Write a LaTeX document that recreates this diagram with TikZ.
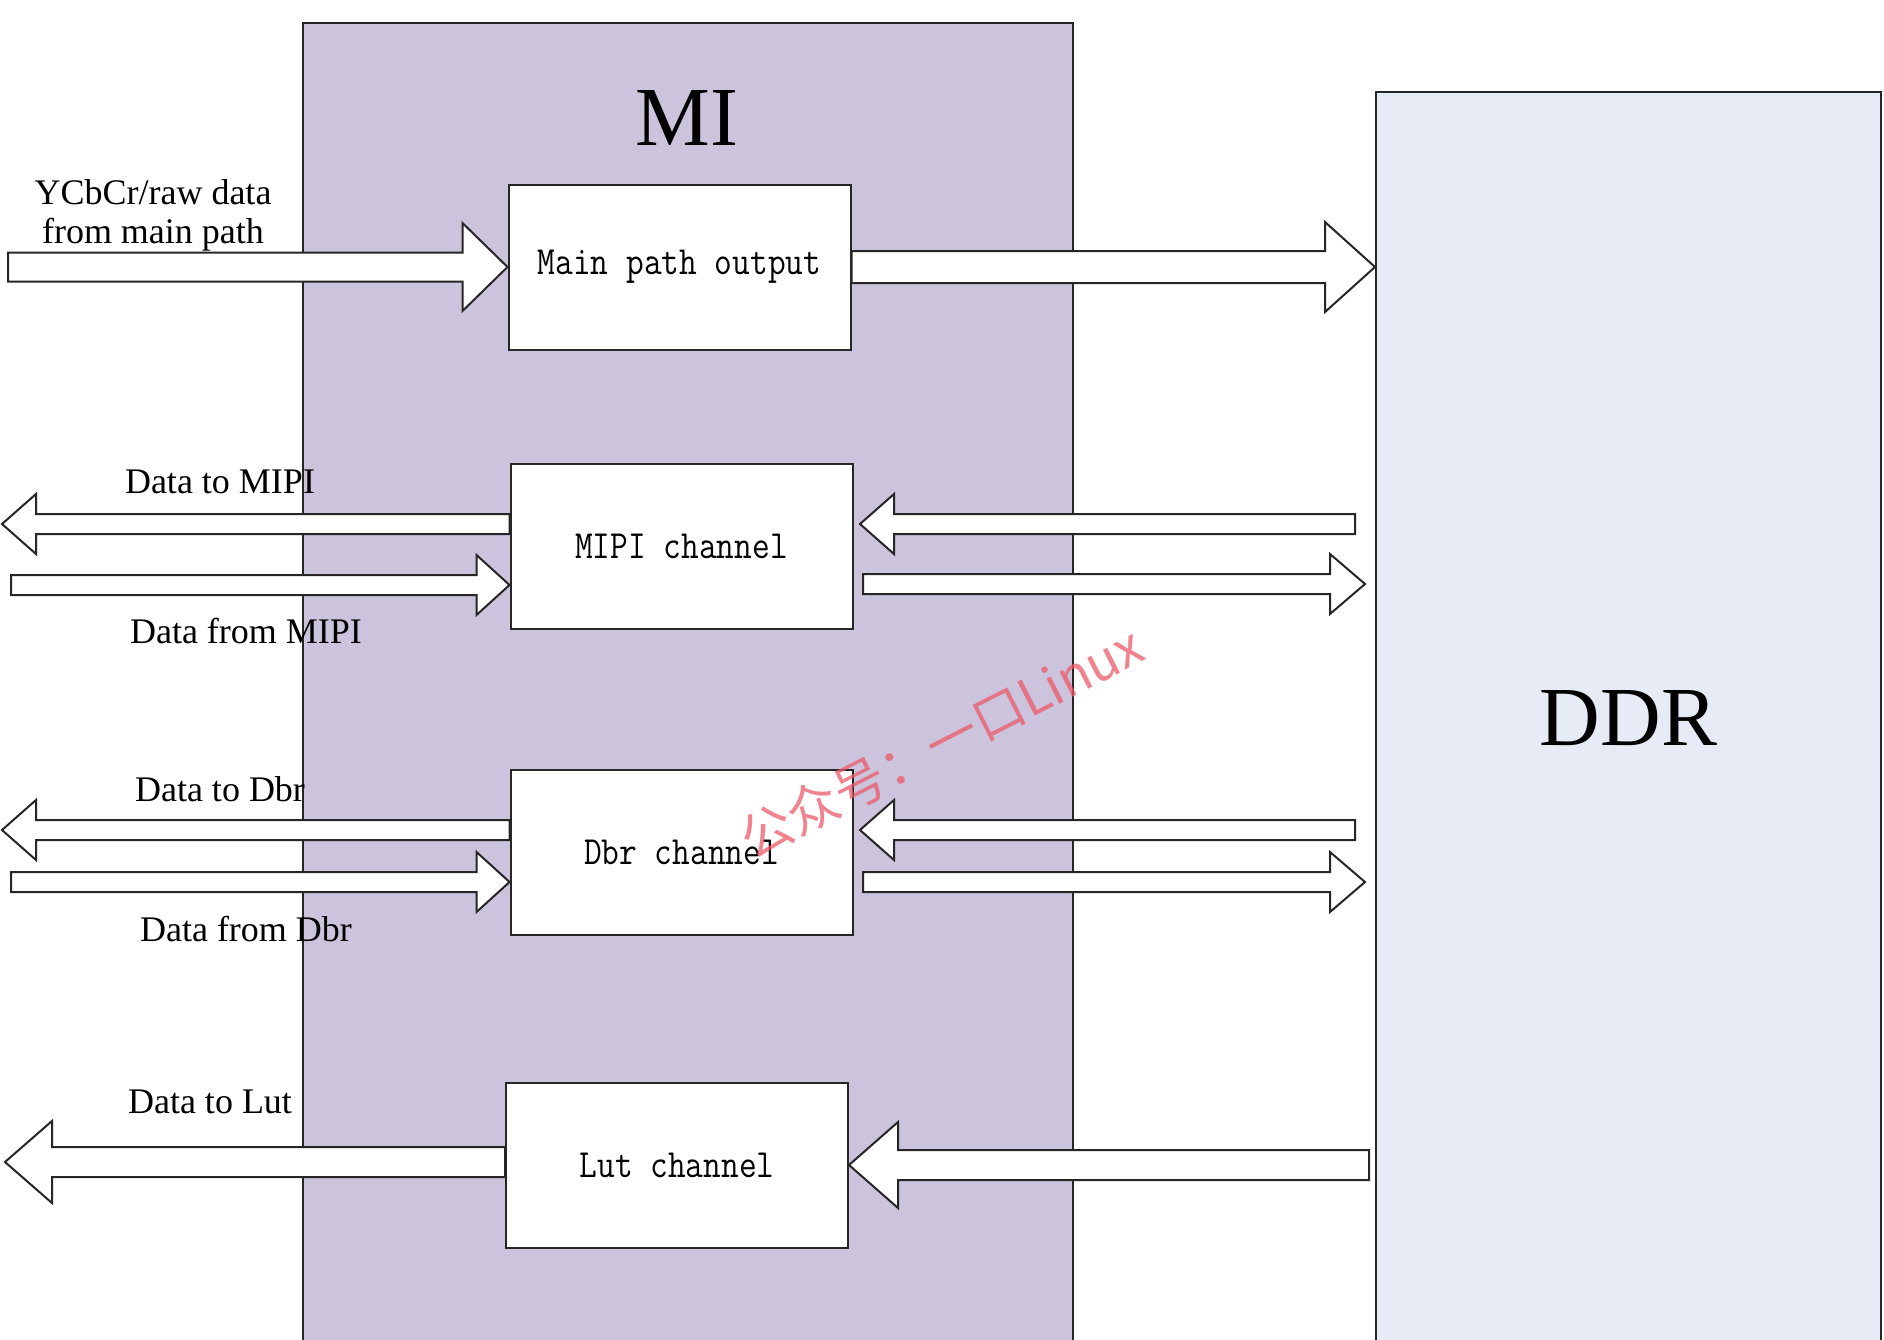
\documentclass[tikz,border=0pt]{standalone}
\usepackage{fontspec}
\usepackage{graphicx}
\setmainfont{Liberation Serif}
\newfontfamily\cjkfont{Noto Sans CJK SC}
\usetikzlibrary{calc}
\definecolor{mifill}{RGB}{204,195,220}
\definecolor{ddrfill}{RGB}{231,235,246}
\definecolor{wmred}{RGB}{236,90,105}
\tikzset{
  blk/.style={draw=black!85, line width=1pt},
  chbox/.style={blk, fill=white, minimum width=171pt, minimum height=82.5pt, inner sep=0pt},
  chtext/.style={font=\fontsize{20}{22}\selectfont\ttfamily},
  lbl/.style={font=\fontsize{18}{19.5}\selectfont, inner sep=0pt, align=center},
  big/.style={font=\fontsize{42}{46}\selectfont},
  arr/.style={draw=black!85, line width=1pt, fill=white, line join=miter},
}
\newcommand\blkarrow[5]{%
  \draw[arr] let \p1=(#1), \p2=(#2), \n1={sign(\x2-\x1)} in
   (\x1,{\y2+#3*0.5pt}) -- ({\x2-\n1*#4*0.5pt},{\y2+#3*0.5pt}) --
   ({\x2-\n1*#4*0.5pt},{\y2+#5*0.5pt}) -- (\x2,\y2) --
   ({\x2-\n1*#4*0.5pt},{\y2-#5*0.5pt}) -- ({\x2-\n1*#4*0.5pt},{\y2-#3*0.5pt}) --
   (\x1,{\y2-#3*0.5pt}) -- cycle;}
\newcommand\chlabel[1]{\scalebox{0.86}[1]{#1}}
\begin{document}
\begin{tikzpicture}[x=0.5pt,y=-0.5pt]
\useasboundingbox (0,0) rectangle (1884,1339);
\clip (0,0) rectangle (1884,1339);
\fill[white] (0,0) rectangle (1884,1339);
% big blocks
\node[blk, fill=mifill, minimum width=385pt, minimum height=661pt, inner sep=0pt] (mi) at (688,684) {};
\node[big] (milbl) at (687,118) {MI};
\node[blk, fill=ddrfill, minimum width=252.5pt, minimum height=626.5pt, inner sep=0pt, big] (ddr) at (1628.5,718.5) {DDR};
% channel boxes
\node[chbox, chtext] (mainbox) at (679.5,267) {\chlabel{Main path output}};
\node[chbox, chtext] (mipi) at (681.5,546) {\chlabel{MIPI channel}};
\node[chbox, chtext] (dbr) at (681.5,852.5) {\chlabel{Dbr channel}};
\node[chbox, chtext] (lut) at (677,1165) {\chlabel{Lut channel}};
% main path arrows
\coordinate (inMain) at (8,266);
\blkarrow{inMain}{mainbox.west}{14.5}{45}{44}
\coordinate (outMain) at (mainbox.east -| ddr.west);
\blkarrow{mainbox.east}{outMain}{16}{50}{45}
% MIPI arrows
\coordinate (toMipi) at (2,524);
\coordinate (toMipiS) at (mipi.west |- toMipi);
\blkarrow{toMipiS}{toMipi}{10}{34}{30}
\coordinate (fromMipiS) at (11,585);
\coordinate (fromMipi) at (mipi.west |- fromMipiS);
\blkarrow{fromMipiS}{fromMipi}{10}{33}{30}
\coordinate (mipiRinS) at (1355,524);
\coordinate (mipiRin) at (860,524);
\blkarrow{mipiRinS}{mipiRin}{10}{34}{30}
\coordinate (mipiRoutS) at (863,584);
\coordinate (mipiRout) at (1365,584);
\blkarrow{mipiRoutS}{mipiRout}{10}{35}{30}
% Dbr arrows
\coordinate (toDbr) at (2,830);
\coordinate (toDbrS) at (dbr.west |- toDbr);
\blkarrow{toDbrS}{toDbr}{10}{34}{30}
\coordinate (fromDbrS) at (11,882);
\coordinate (fromDbr) at (dbr.west |- fromDbrS);
\blkarrow{fromDbrS}{fromDbr}{10}{33}{30}
\coordinate (dbrRinS) at (1355,830);
\coordinate (dbrRin) at (860,830);
\blkarrow{dbrRinS}{dbrRin}{10}{34}{30}
\coordinate (dbrRoutS) at (863,882);
\coordinate (dbrRout) at (1365,882);
\blkarrow{dbrRoutS}{dbrRout}{10}{35}{30}
% Lut arrows
\coordinate (toLut) at (5,1162);
\coordinate (toLutS) at (lut.west |- toLut);
\blkarrow{toLutS}{toLut}{15}{47}{41}
\coordinate (lutInS) at (1369,1165);
\blkarrow{lutInS}{lut.east}{15}{49}{43}
% labels
\node[lbl] (lmain) at (153,215) {YCbCr/raw data\\from main path};
\node[lbl] (ltomipi) at (220,482) {Data to MIPI};
\node[lbl] (lfrommipi) at (246,631) {Data from MIPI};
\node[lbl] (ltodbr) at (220,789) {Data to Dbr};
\node[lbl] (lfromdbr) at (246,929) {Data from Dbr};
\node[lbl] (ltolut) at (210,1102) {Data to Lut};
% watermark
\node[text=wmred, opacity=0.75, rotate=27, font=\fontsize{26}{28}\selectfont\cjkfont] (wm) at (941,742) {公众号：一口Linux};
\end{tikzpicture}
\end{document}
